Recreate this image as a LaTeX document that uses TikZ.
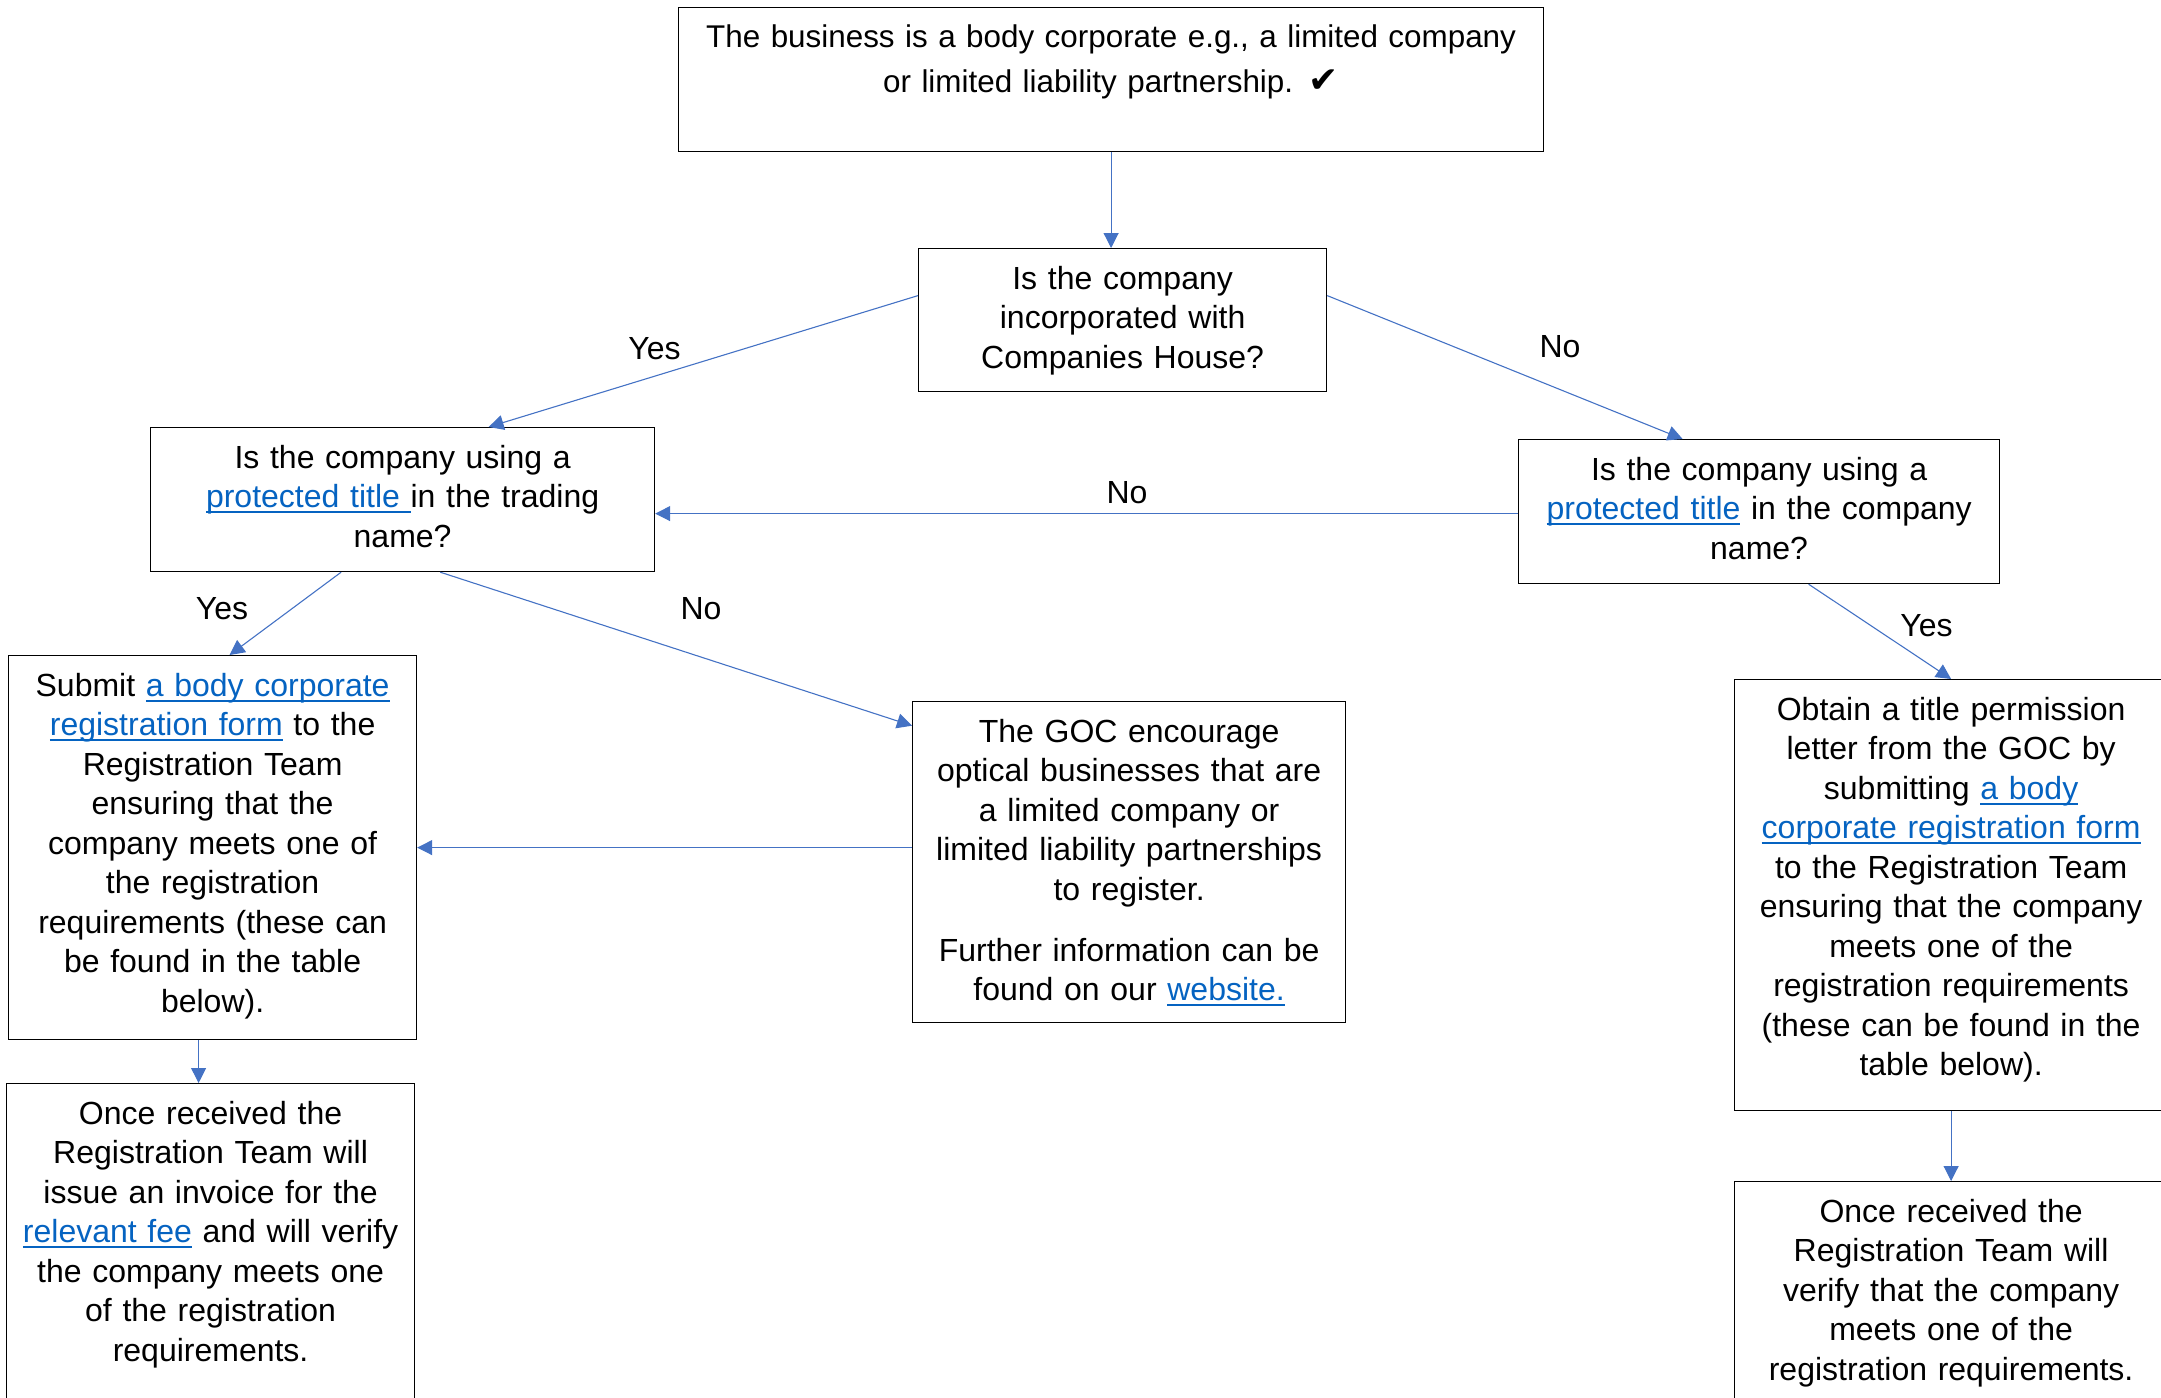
\documentclass[tikz,border=0pt]{standalone}
\usepackage{fontspec}
\setmainfont{Liberation Sans}
\newfontfamily\dejavu{DejaVu Sans}
\usetikzlibrary{arrows.meta}
\definecolor{arrowblue}{HTML}{4472C4}
\definecolor{linkblue}{HTML}{0563C1}
\newsavebox\lnkbox
\newcommand\lnk[1]{\leavevmode{\color{linkblue}\sbox\lnkbox{#1}\rlap{\rule[-2.6pt]{\wd\lnkbox}{1pt}}\usebox\lnkbox}}
\begin{document}
\begin{tikzpicture}[x=0.5pt,y=-0.5pt,
  box/.style={draw=black, line width=0.6pt, inner sep=0pt, anchor=north west},
  txt/.style={anchor=north, align=center, inner sep=0pt, font=\fontsize{16}{19.75}\selectfont},
  lbl/.style={inner sep=0pt, font=\fontsize{16}{19.75}\selectfont},
  arr/.style={draw=arrowblue, line width=0.55pt, -{Triangle[length=7.5pt,width=7.5pt]}}]
\useasboundingbox (0,0) rectangle (2161,1397);
\clip (0,0) rectangle (2161,1397);
% boxes
\node[box, minimum width=432.5pt, minimum height=72pt] (A) at (678,7) {};
\node[box, minimum width=204pt, minimum height=71.5pt] (B) at (918,248) {};
\node[box, minimum width=252pt, minimum height=72pt] (C) at (150,427) {};
\node[box, minimum width=240.5pt, minimum height=72pt] (D) at (1518,439) {};
\node[box, minimum width=204pt, minimum height=192pt] (E) at (8,655) {};
\node[box, minimum width=216.5pt, minimum height=160.5pt] (F) at (912,701) {};
\node[box, minimum width=204pt, minimum height=168.5pt] (G) at (6,1083) {};
\node[box, minimum width=216.5pt, minimum height=215.5pt] (H) at (1734,679) {};
\node[box, minimum width=216.5pt, minimum height=119.5pt] (I) at (1734,1181) {};
% texts
\node[txt, text width=420pt, font=\fontsize{15.7}{22.5}\selectfont] (At) at ([yshift=-4.25pt]A.north)
 {\strut The business is a body corporate e.g., a limited company\\ or limited liability partnership. {\dejavu\fontsize{18}{22.5}\selectfont ✔}};
\node[txt, text width=196pt] (Bt) at ([yshift=-6.7pt]B.north)
 {\strut Is the company\\ incorporated with\\ Companies House?};
\node[txt, text width=244pt] (Ct) at ([yshift=-6.7pt]C.north)
 {\strut Is the company using a\\ \lnk{protected title }in the trading\\ name?};
\node[txt, text width=232pt] (Dt) at ([yshift=-6.7pt]D.north)
 {\strut Is the company using a\\ \lnk{protected title} in the company\\ name?};
\node[txt, text width=196pt] (Et) at ([yshift=-6.7pt]E.north)
 {\strut Submit \lnk{a body corporate}\\ \lnk{registration form} to the\\ Registration Team\\ ensuring that the\\ company meets one of\\ the registration\\ requirements (these can\\ be found in the table\\ below).};
\node[txt, text width=208pt] (Ft) at ([yshift=-6.7pt]F.north)
 {\strut The GOC encourage\\ optical businesses that are\\ a limited company or\\ limited liability partnerships\\ to register.\\[10.75pt] Further information can be\\ found on our \lnk{website.}};
\node[txt, text width=196pt] (Gt) at ([yshift=-6.7pt]G.north)
 {\strut Once received the\\ Registration Team will\\ issue an invoice for the\\ \lnk{relevant fee} and will verify\\ the company meets one\\ of the registration\\ requirements.};
\node[txt, text width=208pt] (Ht) at ([yshift=-6.7pt]H.north)
 {\strut Obtain a title permission\\ letter from the GOC by\\ submitting \lnk{a body}\\ \lnk{corporate registration form}\\ to the Registration Team\\ ensuring that the company\\ meets one of the\\ registration requirements\\ (these can be found in the\\ table below).};
\node[txt, text width=208pt] (It) at ([yshift=-6.7pt]I.north)
 {\strut Once received the\\ Registration Team will\\ verify that the company\\ meets one of the\\ registration requirements.};
% helper coordinates
\coordinate (dw) at ([yshift=-1pt]D.west);
\coordinate (es) at ([xshift=-7pt]E.south);
% connectors
\draw[arr] (A.south) -- (A.south |- B.north);
\draw[arr] ([yshift=12.25pt]B.west) -- ([xshift=43pt]C.north);
\draw[arr] ([yshift=12.25pt]B.east) -- ([xshift=-38.25pt]D.north);
\draw[arr] (dw) -- (C.east |- dw);
\draw[arr] ([xshift=-30.75pt]C.south) -- ([xshift=8.5pt]E.north);
\draw[arr] ([xshift=18.85pt]C.south) -- ([yshift=-12.35pt]F.north west);
\draw[arr] (F.west |- E.east) -- (E.east);
\draw[arr] (es) -- (es |- G.north);
\draw[arr] ([xshift=24.75pt]D.south) -- (H.north);
\draw[arr] (H.south) -- (I.north);
% labels
\node[lbl] (yes1) at (654.5,348.6) {Yes};
\node[lbl] (no1) at (1560,347) {No};
\node[lbl] (no2) at (1127,493) {No};
\node[lbl] (yes2) at (222,608.5) {Yes};
\node[lbl] (no3) at (701,609) {No};
\node[lbl] (yes3) at (1926.5,625.6) {Yes};
\end{tikzpicture}
\end{document}
